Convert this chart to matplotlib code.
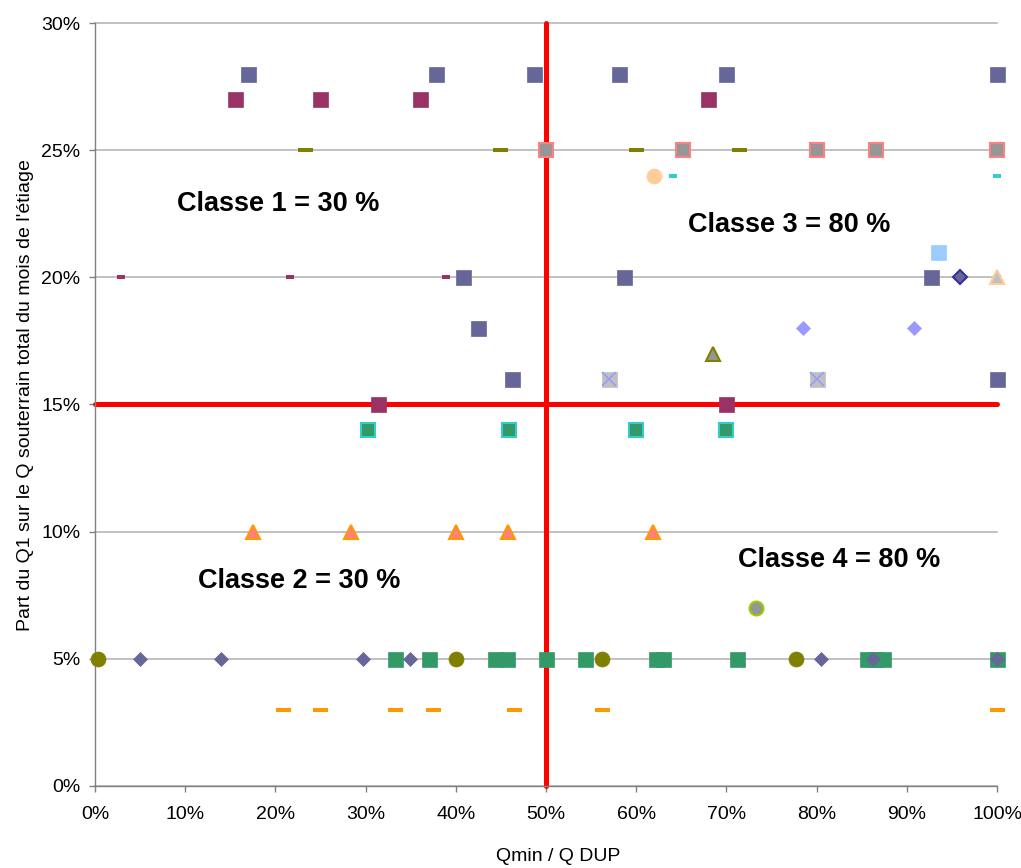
import matplotlib
matplotlib.use("Agg")
import matplotlib.pyplot as plt
import matplotlib.ticker as mtick

plt.rcParams['font.family'] = ['Liberation Sans', 'DejaVu Sans']

# ---- data (x = Qmin / Q DUP, y = part du Q1) ----
sq_blue_x = [0.170, 0.378, 0.487, 0.581, 0.700, 1.00, 0.408, 0.586, 0.927, 0.425, 0.462, 1.00]
sq_blue_y = [0.28, 0.28, 0.28, 0.28, 0.28, 0.28, 0.20, 0.20, 0.20, 0.18, 0.16, 0.16]

sq_maroon_x = [0.155, 0.250, 0.360, 0.680, 0.314, 0.700]
sq_maroon_y = [0.27, 0.27, 0.27, 0.27, 0.15, 0.15]

dash_maroon_x = [0.029, 0.216, 0.389, 1.00]
dash_maroon_y = [0.20, 0.20, 0.20, 0.20]

dash_olive_x = [0.233, 0.449, 0.600, 0.714]
dash_olive_y = [0.25, 0.25, 0.25, 0.25]

sq_grey_x = [0.500, 0.652, 0.800, 0.866, 1.00]
sq_grey_y = [0.25, 0.25, 0.25, 0.25, 0.25]

circ_peach_x = [0.620]
circ_peach_y = [0.24]

dash_turq_x = [0.641, 1.00]
dash_turq_y = [0.24, 0.24]

sq_lightblue_x = [0.935]
sq_lightblue_y = [0.21]

dia_navy_x = [0.959]
dia_navy_y = [0.20]

tri_grey_x = [1.00]
tri_grey_y = [0.20]

dia_lilac_x = [0.785, 0.908]
dia_lilac_y = [0.18, 0.18]

sq_cross_x = [0.570, 0.800]
sq_cross_y = [0.16, 0.16]

tri_olive_x = [0.685]
tri_olive_y = [0.17]

sq_teal_x = [0.303, 0.459, 0.600, 0.700]
sq_teal_y = [0.14, 0.14, 0.14, 0.14]

tri_salmon_x = [0.175, 0.284, 0.400, 0.458, 0.619]
tri_salmon_y = [0.10, 0.10, 0.10, 0.10, 0.10]

circ_lime_x = [0.733]
circ_lime_y = [0.07]

circ_olive_x = [0.003, 0.400, 0.562, 0.777]
circ_olive_y = [0.05, 0.05, 0.05, 0.05]

sq_green_x = [0.333, 0.370, 0.444, 0.457, 0.500, 0.543, 0.622, 0.630, 0.712,
              0.856, 0.865, 0.874, 1.00]
sq_green_y = [0.05] * 13

dia_blue_x = [0.050, 0.140, 0.297, 0.349, 0.805, 0.863, 1.00]
dia_blue_y = [0.05] * 7

dash_orange_x = [0.208, 0.250, 0.333, 0.375, 0.465, 0.562, 1.00]
dash_orange_y = [0.03] * 7

vline_x = [0.50, 0.50]
vline_y = [0.0, 0.30]
hline_x = [0.0, 1.0]
hline_y = [0.15, 0.15]

x_ticks = [0, 0.1, 0.2, 0.3, 0.4, 0.5, 0.6, 0.7, 0.8, 0.9, 1.0]
y_ticks = [0, 0.05, 0.10, 0.15, 0.20, 0.25, 0.30]

classes = ['Classe 1 = 30 %', 'Classe 3 = 80 %', 'Classe 2 = 30 %', 'Classe 4 = 80 %']
class_x = [0.203, 0.770, 0.226, 0.825]
class_y = [0.2262, 0.2180, 0.0779, 0.0861]

# ---- figure ----
fig = plt.figure(figsize=(10.21, 8.68), dpi=100)
ax = fig.add_axes([0.093, 0.0945, 0.8835, 0.879])

ax.plot(vline_x, vline_y, color='#ff0000', lw=3.6, solid_capstyle='round', zorder=2, clip_on=False)
ax.plot(hline_x, hline_y, color='#ff0000', lw=3.6, solid_capstyle='round', zorder=2, clip_on=False)

def pts(x, y, z=3, **kw):
    ax.plot(x, y, ls='none', zorder=z, clip_on=False, **kw)

pts(sq_blue_x, sq_blue_y, marker='s', ms=10.8, mfc='#666699', mec='#666699', mew=0.5)
pts(sq_maroon_x, sq_maroon_y, marker='s', ms=10.8, mfc='#993366', mec='#993366', mew=0.5)
pts(dash_maroon_x, dash_maroon_y, marker='_', ms=5.8, mec='#993366', mew=2.9)
pts(dash_olive_x, dash_olive_y, marker='_', ms=10.8, mec='#808000', mew=2.9)
pts(sq_grey_x, sq_grey_y, marker='s', ms=10.0, mfc='#969696', mec='#ff8080', mew=1.5)
pts(circ_peach_x, circ_peach_y, marker='o', ms=10.8, mfc='#ffcc99', mec='#ffcc99', mew=0.5)
pts(dash_turq_x, dash_turq_y, marker='_', ms=5.8, mec='#33cccc', mew=2.9)
pts(sq_lightblue_x, sq_lightblue_y, marker='s', ms=10.8, mfc='#99ccff', mec='#99ccff', mew=0.5)
pts(dia_navy_x, dia_navy_y, marker='D', ms=7.2, mfc='#666699', mec='#333399', mew=1.5)
pts(tri_grey_x, tri_grey_y, marker='^', ms=10.5, mfc='#c0c0c0', mec='#ffcc99', mew=1.5)
pts(dia_lilac_x, dia_lilac_y, marker='D', ms=7.6, mfc='#9999ff', mec='#9999ff', mew=0.5)
pts(sq_cross_x, sq_cross_y, marker='s', ms=10.8, mfc='#c0c0c0', mec='#c0c0c0', mew=0.5)
pts(sq_cross_x, sq_cross_y, z=4, marker='x', ms=10.0, mec='#9999ff', mew=1.2)
pts(tri_olive_x, tri_olive_y, marker='^', ms=10.5, mfc='#969696', mec='#808000', mew=1.5)
pts(sq_teal_x, sq_teal_y, marker='s', ms=10.0, mfc='#339966', mec='#33cccc', mew=1.5)
pts(tri_salmon_x, tri_salmon_y, marker='^', ms=10.5, mfc='#ff8080', mec='#ff9900', mew=1.5)
pts(circ_lime_x, circ_lime_y, marker='o', ms=10.0, mfc='#969696', mec='#99cc00', mew=1.5)
pts(circ_olive_x, circ_olive_y, marker='o', ms=10.8, mfc='#808000', mec='#808000', mew=0.5)
pts(sq_green_x, sq_green_y, marker='s', ms=10.8, mfc='#339966', mec='#339966', mew=0.5)
pts(dia_blue_x, dia_blue_y, z=4, marker='D', ms=7.6, mfc='#666699', mec='#666699', mew=0.5)
pts(dash_orange_x, dash_orange_y, marker='_', ms=10.8, mec='#ff9900', mew=2.9)

for t, x, y in zip(classes, class_x, class_y):
    ax.text(x, y, t, ha='center', va='baseline', fontsize=19.5, fontweight='bold', zorder=5)

ax.set_xlim(0, 1)
ax.set_ylim(0, 0.30)
ax.set_xticks(x_ticks)
ax.set_yticks(y_ticks)
ax.xaxis.set_major_formatter(mtick.PercentFormatter(xmax=1, decimals=0))
ax.yaxis.set_major_formatter(mtick.PercentFormatter(xmax=1, decimals=0))
ax.grid(axis='y', color='#b0b0b0', lw=1.1, zorder=0)
ax.set_axisbelow(True)
for gl in ax.get_ygridlines():
    gl.set_clip_on(False)

for s in ['top', 'right']:
    ax.spines[s].set_visible(False)
for s in ['left', 'bottom']:
    ax.spines[s].set_color('#808080')
    ax.spines[s].set_linewidth(1.0)
ax.tick_params(direction='out', length=4.5, width=1.0, color='#808080',
               labelsize=14, labelcolor='black')
ax.tick_params(axis='y', pad=6)
ax.tick_params(axis='x', pad=10)

ax.set_xlabel('Qmin / Q DUP', fontsize=14)
ax.xaxis.set_label_coords(0.513, -0.081)
ax.set_ylabel("Part du Q1 sur le Q souterrain total du mois de l'étiage", fontsize=14)
ax.yaxis.set_label_coords(-0.068, 0.512)

fig.savefig('out.png', dpi=100)
